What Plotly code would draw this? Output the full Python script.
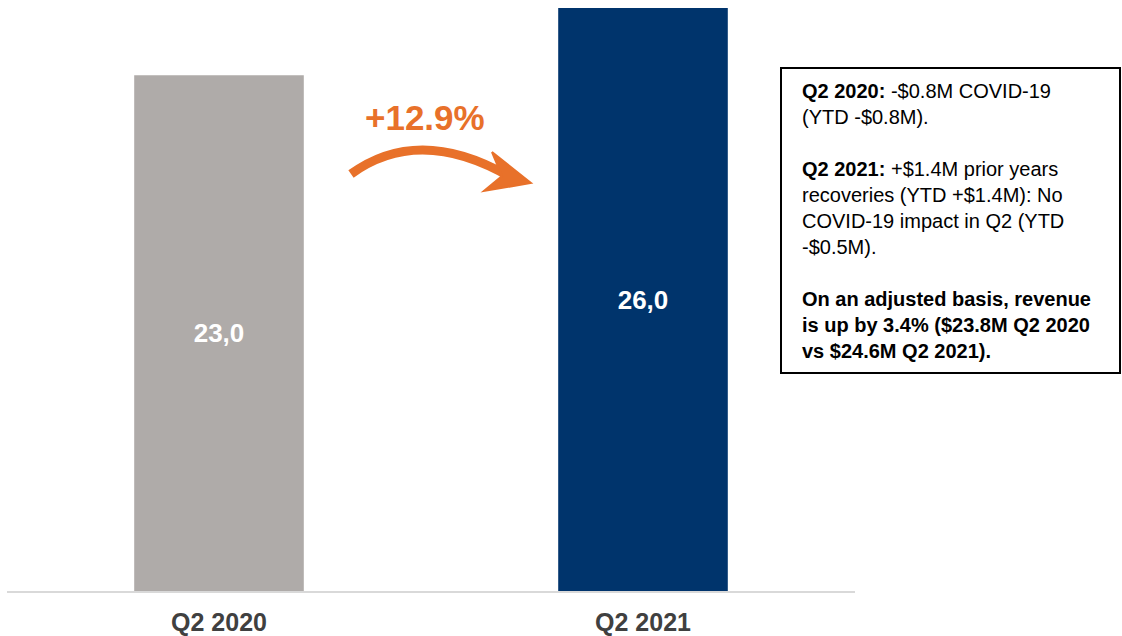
import plotly.graph_objects as go

categories = ["Q2 2020", "Q2 2021"]
revenue = [23.0, 26.0]
bar_colors = ["#AFABA9", "#00346C"]
growth_label = "+12.9%"
note_lines = [
    "<b>Q2 2020:</b> -$0.8M COVID-19",
    "(YTD -$0.8M).",
    "",
    "<b>Q2 2021:</b> +$1.4M prior years",
    "recoveries (YTD +$1.4M): No",
    "COVID-19 impact in Q2 (YTD",
    "-$0.5M).",
    "",
    "<b>On an adjusted basis, revenue</b>",
    "<b>is up by 3.4% ($23.8M Q2 2020</b>",
    "<b>vs $24.6M Q2 2021).</b>",
]

W, H = 1122, 636
ML, MR, MT, MB = 7, 267, 8, 45
PW, PH = W - ML - MR, H - MT - MB


def px(x):
    return (x - ML) / PW


def py(y):
    return (H - MB - y) / PH


FONT = "Liberation Sans, Arial, sans-serif"
ORANGE = "#E8712A"

fig = go.Figure(
    go.Bar(
        x=categories,
        y=revenue,
        marker=dict(color=bar_colors, line=dict(width=0)),
        width=0.4,
        text=[f"{v:.1f}".replace(".", ",") for v in revenue],
        textposition="inside",
        insidetextanchor="middle",
        textfont=dict(color="white", size=26, family=FONT, weight="bold"),
        hoverinfo="skip",
    )
)

# curved arrow
shaft = "M {:.5f},{:.5f} Q {:.5f},{:.5f} {:.5f},{:.5f}".format(
    px(351), py(174), px(420), py(124), px(512), py(178)
)
head = "M {:.5f},{:.5f} L {:.5f},{:.5f} L {:.5f},{:.5f} L {:.5f},{:.5f} Z".format(
    px(531), py(183), px(492), py(152), px(502), py(176), px(484), py(191)
)
shapes = [
    dict(type="path", xref="paper", yref="paper", path=shaft,
         line=dict(color=ORANGE, width=9), fillcolor="rgba(0,0,0,0)"),
    dict(type="path", xref="paper", yref="paper", path=head,
         line=dict(color=ORANGE, width=2), fillcolor=ORANGE),
    dict(type="rect", xref="paper", yref="paper",
         x0=px(781), x1=px(1120), y0=py(373), y1=py(68),
         line=dict(color="black", width=2)),
]

annotations = [
    dict(xref="paper", yref="paper", x=px(425), y=py(118), text=f"<b>{growth_label}</b>",
         showarrow=False, font=dict(color=ORANGE, size=35, family=FONT),
         xanchor="center", yanchor="middle"),
    dict(xref="paper", yref="paper", x=px(800), y=py(78), text="<br>".join(note_lines),
         showarrow=False, align="left", xanchor="left", yanchor="top",
         font=dict(color="black", size=20, family=FONT)),
]

fig.update_layout(
    width=W, height=H,
    margin=dict(l=ML, r=MR, t=MT, b=MB, pad=0, autoexpand=False),
    paper_bgcolor="white", plot_bgcolor="white",
    showlegend=False,
    shapes=shapes,
    annotations=annotations,
    xaxis=dict(showline=True, linecolor="#D9D9D9", linewidth=2, showgrid=False,
               ticks="", automargin=False,
               tickfont=dict(size=25, color="#404040", family=FONT, weight="bold"),
               ticklabelstandoff=8, range=[-0.5, 1.5], fixedrange=True),
    yaxis=dict(range=[0, 26], visible=False, showgrid=False, zeroline=False,
               automargin=False, fixedrange=True),
    uniformtext=dict(minsize=10, mode="show"),
)

fig.write_html("out.html", config={"displayModeBar": False})
